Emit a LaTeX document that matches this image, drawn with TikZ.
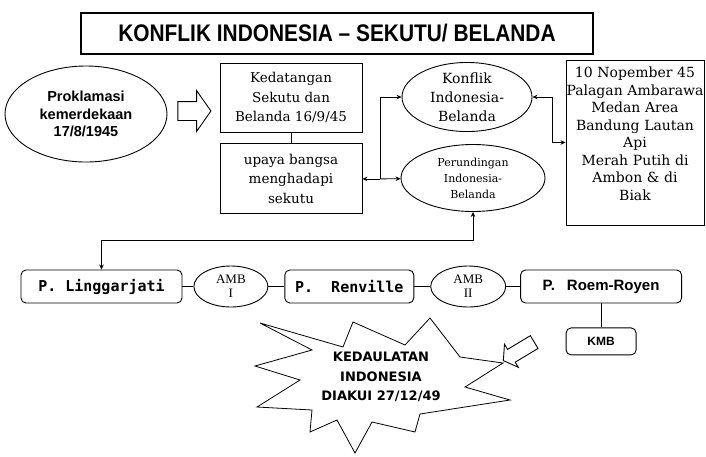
\documentclass[tikz,border=0pt]{standalone}
\usepackage{fontspec}
\setmainfont{DejaVu Serif}
\newfontfamily\ttlfont[FakeStretch=0.87]{Liberation Sans}
\newfontfamily\lsans{Liberation Sans}
\newfontfamily\lserif{Liberation Serif}
\newfontfamily\pmono{DejaVu Sans Mono}
\newfontfamily\dvsans{DejaVu Sans}
\usetikzlibrary{arrows.meta, positioning, shapes.geometric, shapes.arrows}

\begin{document}
\begin{tikzpicture}[
    x=1pt, y=-1pt,
    >={Stealth[length=5pt, width=4.5pt]},
    titlebox/.style={
        draw, rectangle, line width=1.1pt, minimum width=512pt, minimum height=41pt,
        font=\ttlfont\bfseries\fontsize{24}{28}\selectfont
    },
    infobox/.style={
        draw, rectangle, align=center, line width=0.9pt, inner sep=2pt,
        font=\fontsize{13.5}{19.5}\selectfont
    },
    oval/.style={draw, ellipse, align=center, line width=0.9pt, inner sep=0pt},
    pbox/.style={
        draw, rectangle, rounded corners=5pt, line width=0.9pt,
        minimum height=33pt, inner sep=2pt
    },
    blockarrow/.style={
        draw, single arrow, line width=0.9pt, inner xsep=0pt, inner ysep=9pt,
        minimum height=33pt, single arrow head extend=11pt, single arrow tip angle=110
    },
    burst/.style={draw, line width=0.8pt, line join=miter},
    line/.style={draw, ->, line width=0.8pt},
    dline/.style={draw, <->, line width=0.8pt},
    link/.style={draw, line width=0.8pt}
]
    \useasboundingbox (0,0) rectangle (706,456);

    \node[titlebox] (title) at (337,33.5) {KONFLIK INDONESIA – SEKUTU/ BELANDA};

    % atas
    \node[oval, minimum width=162pt, minimum height=96pt,
          font=\lsans\bfseries\fontsize{14.5}{17.5}\selectfont] (prok) at (86,114)
          {Proklamasi\\kemerdekaan\\17/8/1945};
    \node[blockarrow, right=10pt of prok, yshift=3pt] (prokarrow) {};
    \node[infobox, minimum width=142pt, minimum height=69pt] (ked) at (291,97.5)
          {Kedatangan\\Sekutu dan\\Belanda 16/9/45};
    \node[infobox, minimum width=142pt, minimum height=70pt, below=11pt of ked] (upaya)
          {upaya bangsa\\menghadapi\\sekutu};
    \node[oval, minimum width=130pt, minimum height=65pt,
          font=\fontsize{14}{19}\selectfont] (konflik) at (467,97)
          {Konflik\\Indonesia-\\Belanda};
    \node[oval, minimum width=144pt, minimum height=67pt,
          font=\fontsize{11}{16}\selectfont] (perund) at (473,178)
          {Perundingan\\Indonesia-\\Belanda};
    \node[infobox, minimum width=138pt, minimum height=165pt, text width=132pt,
          font=\fontsize{14}{17.5}\selectfont] (peristiwa) at (635,142.5)
          {10 Nopember 45\\
           \makebox[0pt]{Palagan Ambarawa}\hspace{26pt}\\
           Medan Area\\
           Bandung Lautan\\
           Api\hspace{36pt}\\
           Merah Putih di\\
           Ambon \& di\hspace{36pt}\\
           Biak\hspace{16pt}\\
           \mbox{}};

    \coordinate[right=18pt of upaya] (fork);
    \draw[link] (ked) -- (upaya);
    \draw[line] (fork) -- (upaya);
    \draw[line] (fork) |- (konflik);
    \draw[line] (fork) -- (perund);
    \draw[dline] (konflik.east) -- ++(20,0) |- (peristiwa.west);

    % perundingan
    \node[pbox, minimum width=161pt, font=\pmono\bfseries\fontsize{15}{18}\selectfont]
          (ling) at (101.5,286.5) {P. Linggarjati};
    \node[oval, minimum width=74pt, minimum height=41pt,
          font=\lserif\fontsize{13}{14}\selectfont, right=11pt of ling] (amb1) {AMB\\I};
    \node[pbox, minimum width=129pt, font=\pmono\bfseries\fontsize{15}{18}\selectfont,
          right=16pt of amb1] (renv) {P.\ \ Renville};
    \node[oval, minimum width=75pt, minimum height=41pt,
          font=\lserif\fontsize{13}{14}\selectfont, right=16pt of renv] (amb2) {AMB\\II};
    \node[pbox, minimum width=161pt, font=\lsans\bfseries\fontsize{15}{18}\selectfont,
          right=14pt of amb2] (roem) {P.\hspace{12pt}Roem-Royen};
    \node[pbox, minimum width=70pt, minimum height=27pt,
          font=\lsans\bfseries\fontsize{12}{14}\selectfont, below=24pt of roem] (kmb) {KMB};

    \draw[dline] (perund.south) -- ++(0,28) -| (ling.north);
    \draw[link] (ling) -- (amb1);
    \draw[link] (amb1) -- (renv);
    \draw[link] (renv) -- (amb2);
    \draw[link] (amb2) -- (roem);
    \draw[link] (roem) -- (kmb);

    % kedaulatan
    \draw[burst] (260,323) -- (312,350) -- (255,366) -- (300,380) -- (257,407)
        -- (312,410) -- (310,432) -- (337,420) -- (355,453) -- (372,422)
        -- (415,432) -- (420,414) -- (510,400) -- (465,387) -- (503,363)
        -- (460,357) -- (430,318) -- (405,345) -- (353,322) -- (343,347) -- cycle;
    \node[align=center, font=\dvsans\bfseries\fontsize{13}{19.5}\selectfont]
          (kedaulatan) at (381,377) {KEDAULATAN\\INDONESIA\\DIAKUI 27/12/49};
    \node[blockarrow, inner ysep=7pt, minimum height=36pt, single arrow head extend=6pt,
          rotate=211] (toburst) at (521,350) {};
\end{tikzpicture}
\end{document}
